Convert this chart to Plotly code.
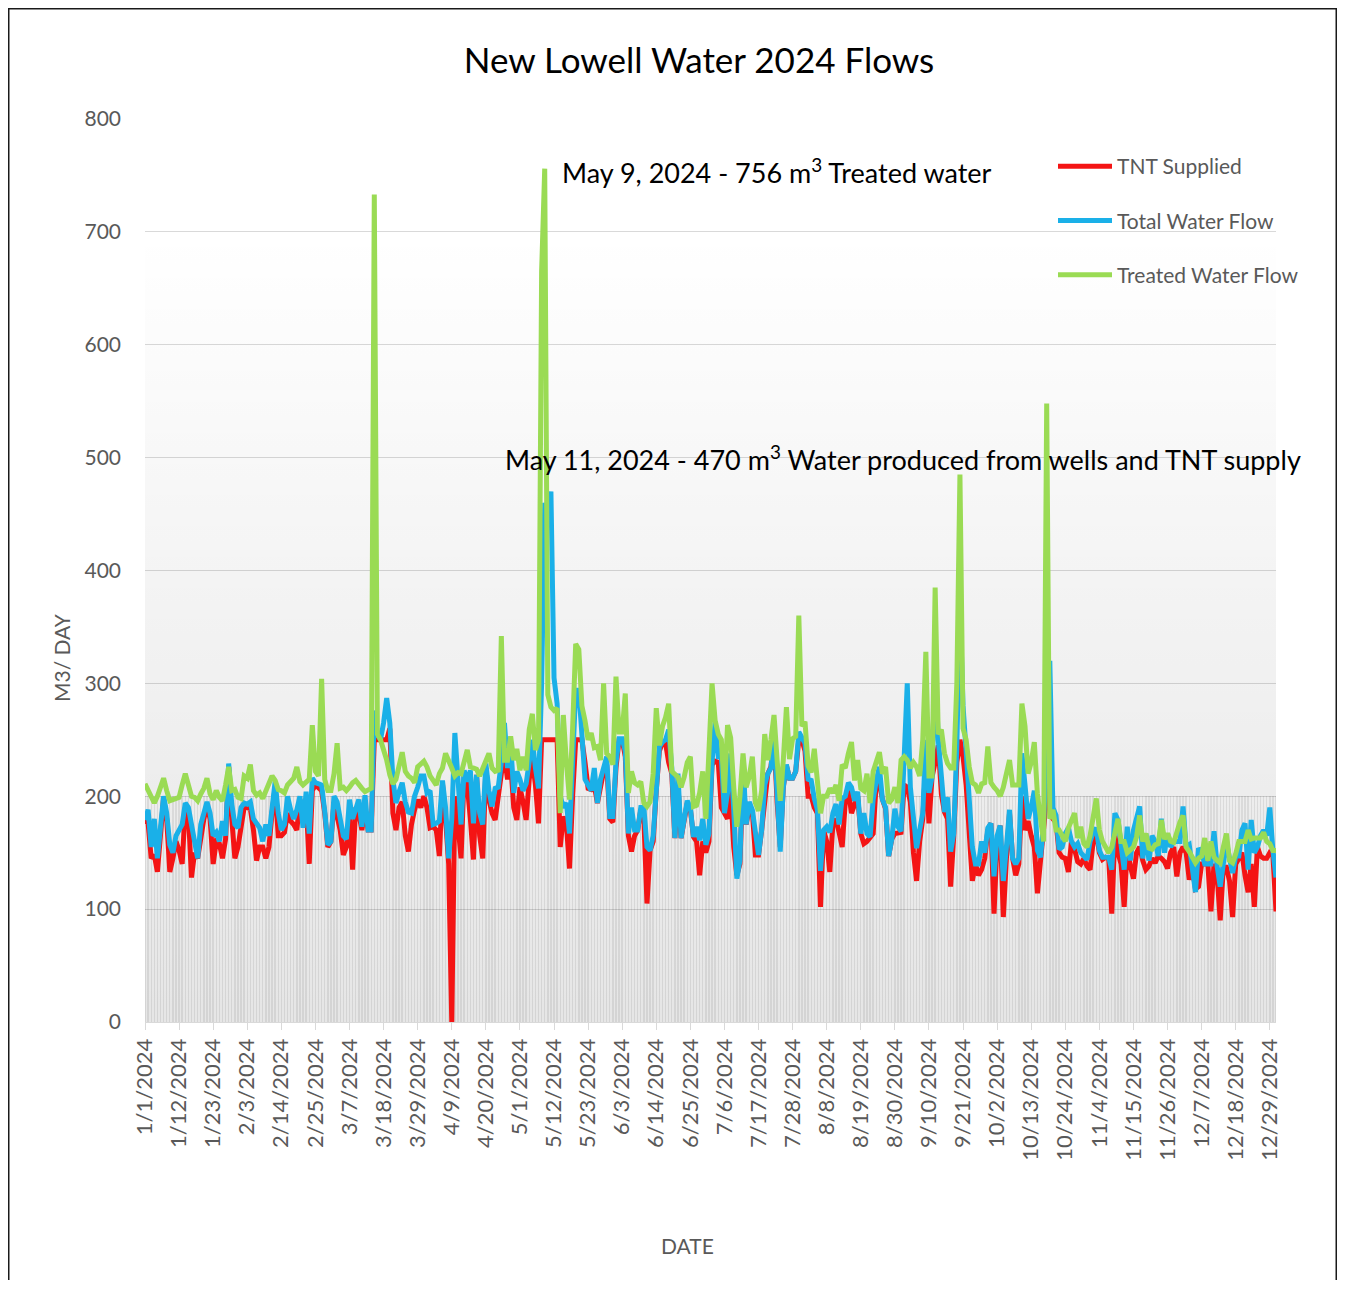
import pandas as pd
import plotly.graph_objects as go

# ---------------- data (m3/day, one value per day of 2024) ----------------
TREATED_WATER_FLOW = [
    211,205,198,194,200,210,216,205,196,197,
    198,199,210,220,210,200,199,196,202,207,
    216,202,197,205,199,196,210,226,205,206,
    199,198,218,216,228,205,201,203,198,204,
    212,218,214,206,205,203,210,213,216,226,
    213,210,212,215,263,222,218,304,215,205,
    205,220,247,207,208,205,208,212,214,210,
    207,204,205,207,733,255,250,241,232,219,
    211,215,225,239,222,218,216,212,226,229,
    231,226,218,214,210,220,225,238,230,225,
    218,221,220,232,241,226,225,224,218,225,
    232,238,225,222,223,342,232,232,253,232,
    242,223,235,223,259,273,241,250,665,756,
    290,279,276,278,185,272,230,197,260,335,
    330,280,267,250,256,243,244,232,300,238,
    235,228,306,257,257,291,203,222,212,210,
    213,194,191,195,220,278,245,262,270,282,
    222,220,217,208,217,230,235,191,192,203,
    222,180,240,300,267,255,250,203,263,252,
    208,173,200,238,208,217,235,194,187,205,
    255,232,250,272,232,196,232,279,233,251,
    253,360,262,266,227,221,242,215,185,200,
    200,207,203,210,196,228,225,238,248,214,
    232,207,205,220,194,222,232,239,220,226,
    194,197,208,194,232,235,232,225,230,226,
    218,250,328,218,218,385,255,259,238,229,
    225,225,300,485,260,250,226,212,210,203,
    211,212,244,212,208,205,200,208,220,232,
    210,210,210,282,262,220,230,248,202,180,
    160,548,180,188,170,170,165,160,172,178,
    185,163,173,158,155,165,185,198,170,160,
    155,150,155,167,180,160,160,150,153,155,
    164,183,160,167,154,153,157,158,179,162,
    167,160,159,170,177,183,155,151,146,141,
    145,147,163,143,160,146,143,141,155,167,
    143,141,149,160,160,160,170,162,163,163,
    163,168,160,158,152,152,
]

TOTAL_WATER_FLOW = [
    179,188,155,180,145,175,200,185,157,150,
    165,170,175,194,190,175,160,145,175,185,
    195,185,165,168,160,178,165,229,193,175,
    172,190,194,193,195,180,175,172,160,175,
    165,190,213,185,170,175,200,188,180,188,
    200,172,204,167,216,212,211,210,187,157,
    160,200,195,178,165,162,197,180,190,197,
    173,201,170,170,276,255,250,265,287,265,
    215,194,204,212,195,186,185,200,208,218,
    218,203,205,175,176,178,214,190,145,180,
    256,214,175,223,213,223,176,219,185,175,
    229,205,191,207,208,230,265,225,247,203,
    222,215,205,211,230,250,225,207,300,460,
    440,470,305,282,200,190,194,167,230,294,
    294,260,215,210,205,225,194,215,225,235,
    182,182,230,251,251,240,167,190,170,170,
    190,190,155,152,165,208,244,248,250,259,
    225,163,220,163,180,196,190,164,173,161,
    180,157,167,230,266,235,235,185,203,238,
    188,127,143,232,175,195,188,170,148,170,
    210,220,225,254,197,151,208,228,216,216,
    222,257,252,247,215,214,198,188,134,170,
    173,168,185,193,175,198,200,212,208,196,
    204,167,185,167,164,197,214,226,197,190,
    147,162,189,173,169,232,300,208,175,154,
    170,185,250,203,217,320,250,217,186,199,
    151,167,245,370,280,240,188,155,140,140,
    160,150,172,176,129,165,174,125,155,188,
    145,140,145,238,210,180,190,205,152,146,
    175,250,320,190,183,153,155,167,172,160,
    155,158,150,147,144,160,168,172,152,146,
    146,146,135,185,179,160,135,173,143,170,
    182,191,145,167,143,165,160,147,180,150,
    167,155,160,160,160,191,155,157,138,115,
    154,150,140,140,140,169,138,120,140,160,
    145,132,147,147,170,176,135,179,150,155,
    165,170,165,190,152,128,
]

TNT_SUPPLIED = [
    179,176,145,148,133,165,198,180,133,145,
    160,152,140,190,185,128,150,145,165,180,
    192,180,140,160,158,145,162,226,180,145,
    155,175,190,190,189,170,143,155,155,145,
    155,185,208,165,165,168,185,178,175,170,
    197,178,195,140,205,210,208,205,185,155,
    160,195,182,170,148,155,185,135,190,185,
    170,190,170,170,250,250,250,250,250,260,
    185,170,190,195,165,151,175,188,197,190,
    200,190,172,173,170,147,211,180,140,0,
    200,175,145,220,210,180,144,219,165,145,
    225,197,185,179,201,220,235,215,230,190,
    179,208,195,179,215,232,210,176,250,250,
    250,250,250,250,155,182,175,136,200,250,
    250,250,230,207,206,210,194,210,222,228,
    180,177,225,250,250,235,165,151,165,170,
    188,180,105,152,160,205,240,248,247,230,
    220,163,210,163,178,194,188,164,160,130,
    160,150,160,228,231,230,190,185,180,205,
    155,130,140,220,175,190,186,148,148,170,
    200,220,226,250,195,155,208,227,216,216,
    222,250,250,240,200,200,190,185,102,170,
    160,133,175,180,168,155,195,205,185,192,
    200,167,158,160,164,167,213,212,197,189,
    147,162,167,168,168,210,208,195,150,125,
    160,180,229,176,217,230,245,202,186,180,
    120,165,230,250,235,210,165,125,140,130,
    135,145,170,176,96,160,174,93,145,185,
    145,130,140,200,170,178,165,155,114,140,
    170,200,240,180,177,150,146,145,133,160,
    153,142,140,145,138,135,160,168,150,144,
    146,145,96,165,150,140,102,155,138,127,
    150,155,143,135,138,145,141,147,145,142,
    136,150,155,129,150,155,150,126,138,118,
    120,140,140,140,98,140,130,90,137,137,
    125,93,140,145,150,130,115,140,102,155,
    147,145,145,150,148,98,
]

# light grey background columns and shaded background area behind the lines
BACKGROUND_COLUMN_LEVEL = 200
BACKGROUND_AREA_LEVEL = 700

TICK_LABELS = [
    "1/1/2024", "1/12/2024", "1/23/2024", "2/3/2024", "2/14/2024", "2/25/2024",
    "3/7/2024", "3/18/2024", "3/29/2024", "4/9/2024", "4/20/2024", "5/1/2024",
    "5/12/2024", "5/23/2024", "6/3/2024", "6/14/2024", "6/25/2024", "7/6/2024",
    "7/17/2024", "7/28/2024", "8/8/2024", "8/19/2024", "8/30/2024", "9/10/2024",
    "9/21/2024", "10/2/2024", "10/13/2024", "10/24/2024", "11/4/2024", "11/15/2024",
    "11/26/2024", "12/7/2024", "12/18/2024", "12/29/2024",
]

dates = pd.date_range("2024-01-01", periods=len(TNT_SUPPLIED), freq="D")
tickvals = pd.to_datetime(TICK_LABELS, format="%m/%d/%Y")
n = len(dates)

# ---------------- layout geometry (page pixels; page body has an 8px margin) ----------------
OFF = 8
W, H = 1329, 1272
PL, PR, PT, PB = 145, 1276, 119, 1022          # plot area on the page
L, R, T, B = PL - OFF, W - (PR - OFF), PT - OFF, H - (PB - OFF)
PW, PH = W - L - R, H - T - B


def px(xpage):
    return (xpage - OFF - L) / PW


def py(ypage):
    return (H - B - (ypage - OFF)) / PH


FONT = "Lato, 'Open Sans', sans-serif"
GREY_TXT = "#595959"

fig = go.Figure()

fig.add_trace(go.Scatter(
    x=dates, y=[BACKGROUND_AREA_LEVEL] * n, mode="lines", line=dict(width=0),
    fill="tozeroy",
    fillgradient=dict(type="vertical",
                      colorscale=[[0, "rgba(0,0,0,0.10)"], [1, "rgba(0,0,0,0.0)"]]),
    hoverinfo="skip", showlegend=False,
))
fig.add_trace(go.Bar(
    x=dates, y=[BACKGROUND_COLUMN_LEVEL] * n, width=0.45 * 86400000,
    marker=dict(color="rgba(0,0,0,0.08)", line=dict(width=0)),
    hoverinfo="skip", showlegend=False,
))

series = [
    ("TNT Supplied", TNT_SUPPLIED, "#F41414"),
    ("Total Water Flow", TOTAL_WATER_FLOW, "#1AB0E8"),
    ("Treated Water Flow", TREATED_WATER_FLOW, "#9ADB54"),
]
for name, vals, col in series:
    fig.add_trace(go.Scatter(
        x=dates, y=vals, name=name, mode="lines",
        line=dict(color=col, width=5), legendgroup=name,
    ))

# frame around the chart (left, top, right edges of the figure)
x_l, x_r = px(OFF + 0.75), px(OFF + W - 0.75)
y_t, y_b = py(OFF + 0.75), py(OFF + H + 5)
frame_path = f"M {x_l} {y_b} L {x_l} {y_t} L {x_r} {y_t} L {x_r} {y_b}"

fig.update_layout(
    width=W, height=H,
    margin=dict(l=L, r=R, t=T, b=B),
    paper_bgcolor="white", plot_bgcolor="white",
    barmode="overlay", bargap=0,
    font=dict(family=FONT, color=GREY_TXT, size=21),
    title=dict(text="New Lowell Water 2024 Flows", x=(699 - OFF) / W, xanchor="center",
               y=1 - (61 - OFF) / H, yanchor="middle",
               font=dict(family=FONT, size=35, color="#000000")),
    legend=dict(x=px(1053), y=py(146), xanchor="left", yanchor="top",
                bgcolor="rgba(0,0,0,0)", font=dict(size=21, color=GREY_TXT),
                traceorder="grouped", tracegroupgap=24, itemwidth=54),
    showlegend=True,
    xaxis=dict(
        range=[dates[0], dates[-1]], tickvals=tickvals, ticktext=TICK_LABELS,
        tickangle=-90, showgrid=False, showline=True, linecolor="#d9d9d9",
        linewidth=1, ticks="outside", ticklen=7, tickcolor="#d9d9d9",
        tickfont=dict(size=22, color=GREY_TXT), zeroline=False,
    ),
    yaxis=dict(
        range=[0, 800], dtick=100, showgrid=True, gridcolor="#d9d9d9",
        gridwidth=1.3, zeroline=False, showline=False, ticks="",
        tickfont=dict(size=21, color=GREY_TXT), ticklabelstandoff=23,
    ),
    annotations=[
        dict(text="May 9, 2024 - 756 m<sup>3</sup> Treated water", xref="paper",
             yref="paper", x=px(560), y=py(171), xanchor="left", yanchor="middle",
             showarrow=False, font=dict(family=FONT, size=27, color="#000000")),
        dict(text="May 11, 2024 - 470 m<sup>3</sup> Water produced from wells and TNT supply",
             xref="paper", yref="paper", x=px(503), y=py(458), xanchor="left",
             yanchor="middle", showarrow=False,
             font=dict(family=FONT, size=27, color="#000000")),
        dict(text="M3/ DAY", xref="paper", yref="paper", x=px(61), y=py(658),
             textangle=-90, showarrow=False, xanchor="center", yanchor="middle",
             font=dict(family=FONT, size=21, color=GREY_TXT)),
        dict(text="DATE", xref="paper", yref="paper", x=px(687), y=py(1245),
             showarrow=False, xanchor="center", yanchor="middle",
             font=dict(family=FONT, size=21, color=GREY_TXT)),
    ],
    shapes=[
        dict(type="path", xref="paper", yref="paper", path=frame_path,
             line=dict(color="#1a1a1a", width=1.5), layer="above"),
    ],
)

fig.write_html("out.html")
